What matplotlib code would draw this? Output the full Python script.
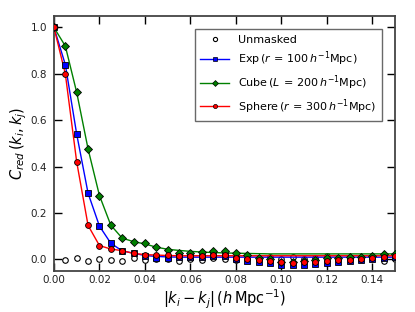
import matplotlib
matplotlib.use("Agg")
import matplotlib.pyplot as plt
from matplotlib.lines import Line2D

# separation grid, h/Mpc
k = [0.000, 0.005, 0.010, 0.015, 0.020, 0.025, 0.030, 0.035, 0.040, 0.045,
     0.050, 0.055, 0.060, 0.065, 0.070, 0.075, 0.080, 0.085, 0.090, 0.095,
     0.100, 0.105, 0.110, 0.115, 0.120, 0.125, 0.130, 0.135, 0.140, 0.145,
     0.150]

# measured reduced correlation (markers)
unmasked = [1.000, -0.004, 0.006, -0.007, -0.001, -0.004, -0.007, 0.007, -0.003, 0.000,
            -0.001, -0.007, 0.002, -0.003, 0.004, 0.001, -0.002, 0.003, 0.001, 0.009,
            0.002, 0.009, 0.000, 0.004, 0.016, 0.003, 0.006, 0.002, 0.004, -0.008,
            0.003]
exp_pts = [1.000, 0.840, 0.540, 0.285, 0.143, 0.069, 0.036, 0.026, 0.014, 0.006,
           0.006, 0.009, 0.009, 0.010, 0.016, 0.012, 0.000, -0.006, -0.013, -0.017,
           -0.024, -0.024, -0.023, -0.020, -0.017, -0.010, -0.006, -0.004, 0.000, 0.004,
           0.010]
cube_pts = [1.000, 0.920, 0.720, 0.476, 0.275, 0.147, 0.091, 0.076, 0.070, 0.053,
            0.039, 0.029, 0.026, 0.030, 0.034, 0.034, 0.029, 0.020, 0.004, 0.000,
            -0.010, -0.010, -0.009, -0.003, 0.004, 0.006, 0.009, 0.011, 0.016, 0.023,
            0.021]
sphere_pts = [1.000, 0.800, 0.420, 0.146, 0.059, 0.044, 0.037, 0.025, 0.017, 0.017,
              0.017, 0.013, 0.014, 0.016, 0.020, 0.017, 0.006, 0.001, -0.005, -0.009,
              -0.014, -0.015, -0.014, -0.012, -0.009, -0.005, -0.002, 0.000, 0.004, 0.008,
              0.012]

# smooth curves drawn through the measurements
exp_line = [1.000, 0.840, 0.540, 0.285, 0.143, 0.069, 0.036, 0.026, 0.016, 0.012,
            0.010, 0.009, 0.009, 0.009, 0.009, 0.009, 0.009, 0.009, 0.009, 0.009,
            0.009, 0.009, 0.009, 0.009, 0.009, 0.009, 0.009, 0.009, 0.009, 0.009,
            0.009]
cube_line = [1.000, 0.920, 0.720, 0.476, 0.275, 0.147, 0.091, 0.076, 0.066, 0.052,
             0.043, 0.038, 0.034, 0.031, 0.029, 0.027, 0.026, 0.025, 0.024, 0.023,
             0.023, 0.023, 0.023, 0.023, 0.023, 0.023, 0.023, 0.023, 0.023, 0.023,
             0.023]
sphere_line = [1.000, 0.800, 0.420, 0.146, 0.059, 0.044, 0.037, 0.025, 0.020, 0.018,
               0.016, 0.015, 0.015, 0.015, 0.015, 0.015, 0.015, 0.015, 0.015, 0.015,
               0.015, 0.015, 0.015, 0.015, 0.015, 0.015, 0.015, 0.015, 0.015, 0.015,
               0.015]

labels = ['Unmasked',
          r'Exp$\,(r\,=\,100\,h^{-1}$Mpc$)$',
          r'Cube$\,(L\,=\,200\,h^{-1}$Mpc$)$',
          r'Sphere$\,(r\,=\,300\,h^{-1}$Mpc$)$']

series = (
    {'pts': exp_pts, 'line': exp_line, 'color': 'b', 'marker': 's', 'ms': 4.2},
    {'pts': cube_pts, 'line': cube_line, 'color': 'g', 'marker': 'D', 'ms': 4.0},
    {'pts': sphere_pts, 'line': sphere_line, 'color': 'r', 'marker': 'o', 'ms': 4.2},
)

edge = '#444444'
plt.rcParams['font.family'] = 'DejaVu Sans'

fig = plt.figure(figsize=(4.15, 3.12), dpi=100)
ax = fig.add_axes([0.130, 0.132, 0.822, 0.817])

ax.plot(k, unmasked, linestyle='none', marker='o', markersize=4,
        markerfacecolor='white', markeredgecolor='black', markeredgewidth=0.8, zorder=2)

for s in series:
    ax.plot(k, s['line'], color=s['color'], linewidth=1.0, zorder=3)
for s in series:
    ax.plot(k, s['pts'], linestyle='none', marker=s['marker'], markersize=s['ms'],
            markerfacecolor=s['color'], markeredgecolor='black', markeredgewidth=0.6,
            zorder=4)

ax.set_xlim(0, 0.15)
ax.set_ylim(-0.05, 1.05)
ax.set_xticks([0.00, 0.02, 0.04, 0.06, 0.08, 0.10, 0.12, 0.14])
ax.set_yticks([0.0, 0.2, 0.4, 0.6, 0.8, 1.0])
ax.xaxis.set_major_formatter(lambda x, pos: '%.2f' % x)
ax.yaxis.set_major_formatter(lambda y, pos: '%.1f' % y)
ax.tick_params(direction='in', length=6, width=1, top=True, right=True,
               labelsize=7.5, colors='black', labelcolor='#222222')
ax.tick_params(axis='x', pad=3)
ax.tick_params(axis='y', pad=5)
for sp in ax.spines.values():
    sp.set_color(edge)
    sp.set_linewidth(1.3)

ax.set_xlabel(r'$|k_i - k_j|\,(h\,\mathrm{Mpc}^{-1})$', fontsize=10.5, labelpad=2)
ax.set_ylabel(r'$C_{red}\,(k_i, k_j)$', fontsize=10.5, labelpad=1)

handles = [Line2D([], [], linestyle='none', marker='o', markersize=3,
                  markerfacecolor='white', markeredgecolor='black', markeredgewidth=0.8)]
for s in series:
    handles.append(Line2D([], [], color=s['color'], linewidth=1.0, marker=s['marker'],
                          markersize=3, markerfacecolor=s['color'],
                          markeredgecolor='black', markeredgewidth=0.5))

leg = ax.legend(handles, labels, loc='upper right', fontsize=8, numpoints=1,
                handlelength=2.6, fancybox=False, borderaxespad=1.2,
                labelspacing=0.45, borderpad=0.5)
leg.get_frame().set_edgecolor(edge)
leg.get_frame().set_linewidth(1.0)

fig.savefig('out.png', dpi=100)
